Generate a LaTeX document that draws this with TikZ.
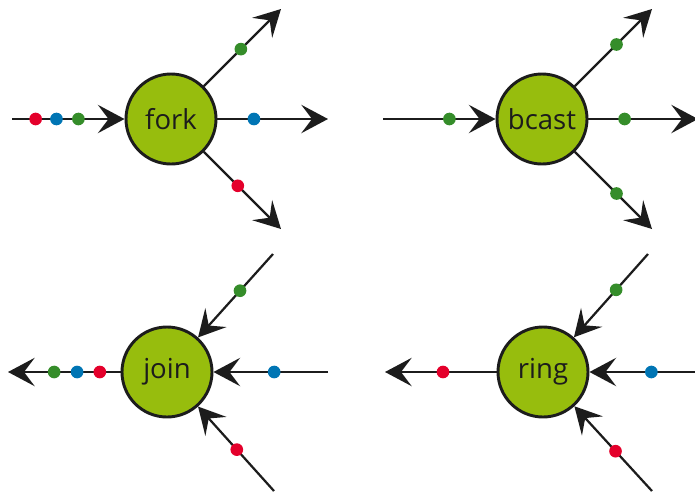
\documentclass[tikz,border=0pt]{standalone}
\usepackage{fontspec}
\setmainfont{Open Sans}
\usetikzlibrary{arrows.meta,positioning}

\definecolor{hubgreen}{RGB}{151,189,13}
\definecolor{pktred}{RGB}{228,0,43}
\definecolor{pktblue}{RGB}{0,117,180}
\definecolor{pktgreen}{RGB}{53,141,42}
\definecolor{linegray}{RGB}{28,28,28}

\begin{document}
\begin{tikzpicture}[x=0.03cm, y=-0.03cm,
    hub/.style={circle, draw=linegray, line width=2.5pt, fill=hubgreen, minimum size=2.7cm, inner sep=0pt, text=linegray, font=\fontsize{23.5}{23.5}\selectfont},
    pkt/.style={circle, fill=#1, inner sep=0pt, minimum size=0.38cm},
    flow/.style={draw=linegray, line width=1.9pt, -{Stealth[length=0.8cm, width=0.85cm, inset=0.32cm]}}]
    \useasboundingbox (0,0) rectangle (695,496);

    % fork
    \node[hub] (fork) at (171,119) {fork};
    \coordinate (fin) at (12,119);
    \coordinate (fout1) at (281,9);
    \coordinate (fout2) at (328,119);
    \coordinate (fout3) at (281,229);

    % bcast
    \node[hub] (bcast) at (542,119) {bcast};
    \coordinate (bin) at (383,119);
    \coordinate (bout1) at (652,9);
    \coordinate (bout2) at (698,119);
    \coordinate (bout3) at (652,229);

    % join
    \node[hub] (join) at (167,372) {join};
    \coordinate (jout) at (8,372);
    \coordinate (jin1) at (273,254);
    \coordinate (jin2) at (328,372);
    \coordinate (jin3) at (274,491);

    % ring
    \node[hub] (ring) at (543,372) {ring};
    \coordinate (rout) at (385,372);
    \coordinate (rin1) at (648,254);
    \coordinate (rin2) at (700,372);
    \coordinate (rin3) at (652,491);

    \draw[flow] (fin) to node[pos=.21, pkt=pktred] {} node[pos=.395, pkt=pktblue] {} node[pos=.59, pkt=pktgreen] {} (fork);
    \draw[flow] (fork) to node[pos=.48, pkt=pktgreen] {} (fout1);
    \draw[flow] (fork) to node[pos=.33, pkt=pktblue] {} (fout2);
    \draw[flow] (fork) to node[pos=.44, pkt=pktred] {} (fout3);

    \draw[flow] (bin) to node[pos=.59, pkt=pktgreen] {} (bcast);
    \draw[flow] (bcast) to node[pos=.54, pkt=pktgreen] {} (bout1);
    \draw[flow] (bcast) to node[pos=.33, pkt=pktgreen] {} (bout2);
    \draw[flow] (bcast) to node[pos=.54, pkt=pktgreen] {} (bout3);

    \draw[flow] (join) to node[pos=.184, pkt=pktred] {} node[pos=.386, pkt=pktblue] {} node[pos=.59, pkt=pktgreen] {} (jout);
    \draw[flow] (jin1) to node[pos=.44, pkt=pktgreen] {} (join);
    \draw[flow] (jin2) to node[pos=.47, pkt=pktblue] {} (join);
    \draw[flow] (jin3) to node[pos=.49, pkt=pktred] {} (join);

    \draw[flow] (ring) to node[pos=.48, pkt=pktred] {} (rout);
    \draw[flow] (rin1) to node[pos=.43, pkt=pktgreen] {} (ring);
    \draw[flow] (rin2) to node[pos=.44, pkt=pktblue] {} (ring);
    \draw[flow] (rin3) to node[pos=.47, pkt=pktred] {} (ring);
\end{tikzpicture}
\end{document}
